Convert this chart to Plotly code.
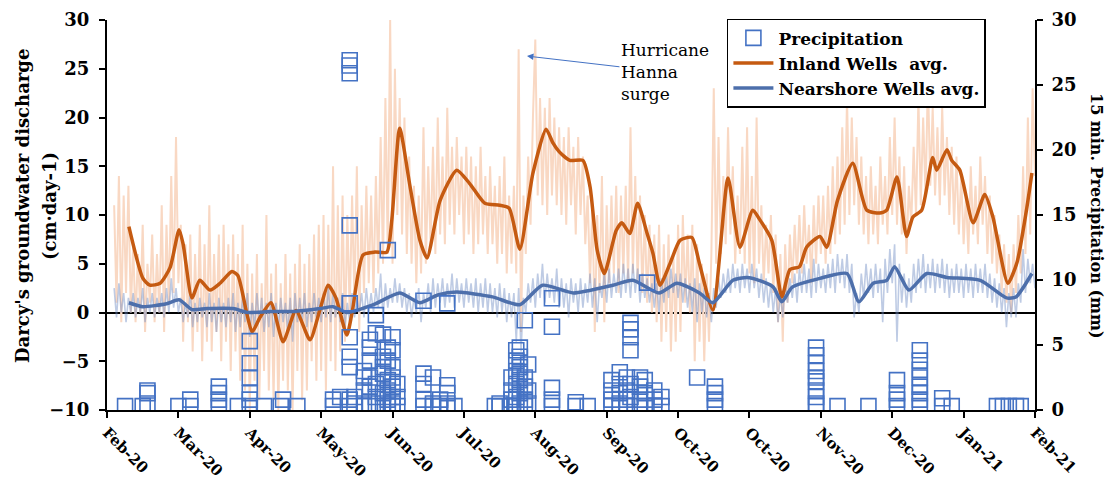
import pandas as pd
import plotly.graph_objects as go

START = pd.Timestamp("2020-02-04")

# ---- x-axis tick labels (every 30 days from START) ----
tick_labels = ["Feb-20", "Mar-20", "Apr-20", "May-20", "Jun-20", "Jul-20", "Aug-20",
               "Sep-20", "Oct-20", "Oct-20", "Nov-20", "Dec-20", "Jan-21", "Feb-21"]
tick_step_days = 30

# ---- raw (15-min, shown as daily extremes) series, one value per day from day 3 ----
raw_start_day = 3
raw_inland = [
    11, 1, 14, -1, 12, 2, 13, 0,
    7, -1, 6, 0, 9, -2, 5, 1, 8, -1,
    6, 0, 11, -2, 9, 1, 14, 2, 18, 3,
    9, -3, 7, -1, 8, -4, 6, -2, 9, -5,
    7, -3, 11, -4, 6, -2, 8, -5, 9, -3,
    7, -6, 8, -4, 6, -7, 9, -8, 5, -10,
    4, -7, 6, -9, 3, -6, 10, -8, 4, -9,
    5, -10, 3, -7, 6, -8, 4, -10, 5, -6,
    7, -9, 5, -8, 6, -5, 8, -7, 9, -6,
    10, -8, 9, -5, 15, -6, 11, -4, 12, -3,
    10, 0, 12, 1, 15, -2, 11, 2, 13, 3,
    12, 2, 14, 4, 18, 5, 22, 6, 30, 5,
    25, 10, 22, 8, 20, 6, 16, 5, 13, 3,
    12, 4, 19, 5, 15, 7, 17, 6, 20, 8,
    16, 7, 21, 9, 17, 8, 18, 10, 16, 7,
    17, 8, 16, 6, 15, 7, 17, 8, 14, 6,
    15, 7, 13, 5, 14, 6, 16, 4, 12, 5,
    13, 4, 27, -2, 12, 6, 16, 9, 20, 28,
    12, 22, 11, 21, 10, 22, 12, 20, 11, 19,
    10, 18, 9, 19, 11, 17, 8, 18, 10, 16,
    7, 12, 3, 11, -2, 10, 2, 14, -1, 11,
    3, 12, 4, 13, 2, 12, 4, 13, 3, 19,
    4, 14, 3, 12, 2, 10, 1, 9, 0, 8,
    -1, 9, -3, 7, -2, 8, -4, 6, -3, 9,
    -2, 10, 1, 8, 0, 9, -5, 7, -3, 5,
    -5, 4, -3, 6, 23, 5, 18, 6, 14, 7,
    19, 8, 15, 5, 12, 6, 17, 5, 19, 4,
    14, 3, 20, 5, 11, 3, 9, 4, 10, 2,
    8, -1, 6, -3, 7, 1, 8, 3, 9, 4,
    10, 4, 11, 5, 9, 3, 11, 5, 12, 6,
    12, 5, 13, 6, 15, 7, 16, 8, 19, 9,
    22, 10, 20, 11, 18, 9, 16, 8, 14, 7,
    15, 8, 13, 7, 16, 9, 14, 8, 18, 10,
    20, 9, 16, 8, 15, 6, 13, 9, 17, 10,
    22, 11, 20, 12, 24, 13, 21, 12, 19, 11,
    21, 12, 18, 10, 17, 9, 16, 8, 14, 7,
    12, 6, 15, 8, 13, 7, 16, 9, 14, 6,
    12, 5, 10, 4, 8, 2, 7, 1, 6, 0,
    7, 2, 10, 4, 15, 6, 20, 8, 23, 14,
]
raw_nearshore = [
    2.5, -0.5, 3, 0, 2, -1, 1.5, 0,
    2, -0.5, 1.5, 0, 2.5, -1, 1.5, 0, 2, -0.5,
    1.5, 0, 2, -0.5, 2.5, 0, 3.5, 0.5, 2.5, 0,
    1.5, -1, 1, -0.5, 2, -1.5, 1, -1, 1.5, -0.5,
    1, -1.5, 2, -1, 1, -2, 1.5, -1, 1, -1.5,
    1.5, -1, 2, -2, 1, -1.5, 1.5, -1, 2, -2.5,
    1, -1.5, 2, -1, 1.5, -2, 1, -1.5, 2, -2.5,
    1, -1.5, 1.5, -1, 1, -2, 1.5, -3, 2, -1,
    1.5, -1, 2, -1.5, 1, -1, 2, -0.5, 1.5, -1,
    2, -0.5, 2.5, -1, 2, -0.5, 1.5, -1, 2, -1.5,
    1, -1, 2, -0.5, 1.5, 0, 2, -0.5, 2.5, 0,
    2, 0, 2.5, 0.5, 4, -0.5, 3, 0.5, 2.5, 1,
    3.5, 1, 3, 0.5, 2.5, 0, 2, -0.5, 1.5, 0,
    2.5, -1, 2, 0.5, 3, 0, 3.5, 0.5, 3, 1,
    3.5, 0.5, 3, 1, 4, 0.5, 3.5, 1, 3, 0.5,
    3.5, 1, 3, 0.5, 3.5, 0, 3, 0.5, 3.5, 0,
    3, 0, 2.5, -0.5, 3, 0, 2.5, -1, 2, -0.5,
    2, -3, 2.5, -4, 1.5, 0, 3, 1, 3.5, 0.5,
    4, 1.5, 5, 1, 4, 1.5, 3.5, 1, 4.5, 0.5,
    3.5, 0.5, 3, -0.5, 3.5, 1, 3, 0, 3.5, 0.5,
    3, 1, 4, 0.5, 3.5, -1, 3, 1.5, 4, 1,
    4.5, 1.5, 4, 2, 4.5, 1.5, 5, 2, 4.5, 1.5,
    5, 2, 4.5, 1, 4, 1.5, 3.5, 1, 3, 0.5,
    3, 0, 3.5, 1, 4, 1.5, 4.5, 2, 4, 1.5,
    4, 1, 3.5, 0.5, 3, 0, 3.5, -1, 3, 0,
    2.5, -0.5, 2, -1, 2.5, 0.5, 3.5, 1.5, 4, 2,
    4.5, 2, 5, 2.5, 4.5, 2, 5, 2.5, 4.5, 2,
    5, 2.5, 4.5, 1.5, 4, 1, 3.5, 0.5, 3, 0,
    2.5, -1, 2, -0.5, 3, 1, 3.5, 1.5, 4, 1,
    4.5, 2, 5, 2, 4.5, 1.5, 5.5, 2, 5, 2.5,
    4.5, 2, 5, 2.5, 5.5, 2, 6, 3, 5.5, 2.5,
    6, 2, 5, -0.5, 2, 0, 4, 1.5, 5, 2,
    4.5, 1.5, 5, 2, 4.5, -1, 5.5, 2, 6.5, 3,
    7, -3, 5, 1, 4, 0.5, 3.5, 1, 5, 2,
    5.5, 2.5, 6, 2, 5, 2.5, 5.5, 2, 5, 2.5,
    5.5, 2, 5, 1.5, 4.5, 2, 5, 2, 4.5, 1.5,
    5, 2, 4.5, 1.5, 5, 2, 4.5, 2, 5, 1.5,
    4, 1, 3.5, 0.5, 3, 0, 2.5, -1.5, 2, -0.5,
    2.5, -0.5, 3, 1, 6.5, 2, 5.5, 3, 5, 2.5,
]

# ---- smoothed averages (day offset from START, value cm/day) ----
inland_day = [9.2, 15.1, 18, 22.3, 26.5, 30.3, 32, 35.7, 39, 43.3, 47.5, 52.5, 55, 58.4, 61,
              64.3, 68.9, 74, 79.4, 85.3, 89.5, 92.9, 96.2, 100.8, 103, 107.6, 112.6, 117.6,
              119.7, 123, 127.3, 131.5, 134.5, 140, 147, 152.5, 158.8, 165, 169, 173.5, 179,
              184.5, 187.4, 190, 194.5, 200, 203, 206, 209, 214, 216.4, 219.7, 223, 227,
              229.4, 232.4, 236.6, 240.8, 245.8, 249, 254.6, 261, 266, 271.4, 274.4, 279.4,
              283.6, 287, 291, 294, 299.6, 302.5, 307, 313.4, 319.3, 324.8, 327.7, 332, 336,
              338.7, 342.4, 347, 348.7, 353, 355, 358.4, 364, 368.9, 372.3, 378.6, 382.4,
              386.6, 388.7]
inland_avg = [8.8, 3.5, 2.8, 3.0, 4.6, 8.5, 7.0, 1.5, 3.3, 2.3, 3.0, 4.2, 3.8, 0.3, -2.0,
              -0.5, 1.0, -3.0, 0.2, -2.8, 0.3, 2.8, 1.5, -2.3, 0.0, 5.9, 6.2, 6.2,
              9.5, 18.9, 13.0, 7.4, 5.6, 11.5, 14.6, 13.2, 11.2, 11.0, 10.7, 6.5, 14.3,
              18.8, 17.4, 16.5, 15.6, 15.6, 12.9, 6.4, 4.0, 8.4, 9.2, 8.1, 11.2, 8.1,
              6.1, 2.8, 5.0, 7.4, 7.7, 5.0, 0.25, 13.8, 6.7, 10.5, 9.5, 7.4,
              1.6, 4.4, 4.7, 6.7, 7.8, 6.7, 11.5, 15.3, 10.5, 10.2, 10.5, 13.9, 7.8,
              9.8, 10.5, 15.9, 14.6, 16.7, 15.6, 14.6, 9.2, 12.1, 9.8, 3.0, 5.1,
              10.8, 14.3]

nearshore_day = [9.2, 15, 25, 30.3, 35.7, 42, 53, 59, 68.9, 78.6, 89.5, 95, 100.8, 112, 123,
                 131.5, 139, 147, 162, 173.5, 183, 196, 212.6, 221, 232, 239.5, 249, 254.6,
                 263, 269, 274, 280, 283.6, 288, 299.6, 311, 316, 322, 327.7, 331, 337,
                 344.5, 353, 367, 378, 382, 388.7]
nearshore_avg = [1.0, 0.6, 0.9, 1.3, 0.3, 0.4, 0.4, 0.0, 0.1, 0.1, 0.4, 0.6, 0.0, 0.8, 2.0,
                 1.0, 1.8, 2.1, 1.6, 0.8, 2.8, 2.0, 2.8, 3.3, 2.0, 3.0, 2.0, 1.0,
                 3.3, 3.6, 3.3, 2.6, 1.1, 2.6, 3.5, 4.0, 1.1, 3.0, 3.3, 4.7, 2.3,
                 4.0, 3.6, 3.3, 1.5, 1.6, 4.0]

# ---- 15-min precipitation (day offset from START, mm) ----
precip_day = [7.6, 15, 17, 17, 17, 30, 35, 35, 47, 47, 47, 47, 55,
              60, 60, 60, 60, 60, 60, 66, 73, 74, 80, 95, 95, 98,
              102, 102, 102, 102, 102, 102, 102, 102, 102, 102, 104, 104,
              108, 108, 108, 108, 110.5, 110.5, 110.5, 110.5, 110.5, 110.5,
              113, 113, 113, 113, 113, 116, 116, 116, 116, 116, 116,
              118, 118, 118, 118, 118, 118, 118, 120, 120, 120, 120, 120, 120, 120, 120,
              122, 122, 122, 133, 133, 133, 133, 133, 137, 137, 137, 140, 140,
              143, 143, 143, 143, 143, 146, 163, 165, 165,
              170, 170, 170, 170, 172, 172, 172, 172, 172, 172,
              173.5, 173.5, 173.5, 173.5, 173.5, 173.5, 173.5,
              175.6, 175.6, 175.6, 175.6, 175.6, 177, 177, 177,
              187, 187, 187, 187, 187, 197, 197, 202,
              212, 212, 212, 212, 215.5, 215.5, 215.5, 215.5, 215.5,
              218.5, 218.5, 218.5, 218.5, 220, 220, 220, 220, 220, 220,
              224, 224, 224, 224, 226, 226, 226, 227, 230, 230, 230, 233, 233,
              248, 255.5, 255.5, 255.5, 255.5,
              298, 298, 298, 298, 298, 298, 298, 298, 298, 298,
              307, 320, 332, 332, 332, 332,
              341.6, 341.6, 341.6, 341.6, 341.6, 341.6, 341.6, 341.6,
              351, 351, 355, 374, 376.5, 379, 382, 384]
precip_mm = [0.3, 0.3, 0.5, 1.3, 1.5, 0.3, 0.3, 0.8, 0.3, 0.8, 1.3, 1.8, 0.3,
             0.3, 0.8, 1.3, 2.5, 3.6, 5.3, 0.3, 0.3, 0.8, 0.3, 0.3, 0.8, 1.0,
             0.3, 0.8, 3.3, 4.1, 5.6, 8.2, 14.2, 25.9, 26.5, 26.9, 0.5, 1.0,
             0.3, 1.5, 2.5, 3.0, 0.5, 1.8, 2.5, 3.8, 4.8, 5.4,
             0.3, 1.0, 2.0, 5.9, 7.3, 0.5, 1.3, 2.8, 3.3, 4.1, 5.8,
             0.3, 0.8, 1.5, 2.3, 3.8, 4.8, 12.3, 0.3, 0.5, 1.0, 1.8, 2.5, 3.3, 4.6, 5.6,
             0.3, 1.0, 2.0, 0.3, 0.8, 2.0, 2.8, 8.4, 0.3, 0.5, 2.5, 0.3, 0.8,
             0.3, 0.5, 1.3, 1.9, 8.2, 0.3, 0.3, 0.3, 0.5,
             0.3, 0.8, 1.5, 2.5, 0.3, 1.0, 2.0, 3.0, 3.8, 4.6,
             0.5, 1.3, 2.3, 2.8, 3.3, 4.1, 4.8,
             0.3, 0.8, 1.8, 2.5, 6.9, 0.5, 1.5, 3.5,
             0.3, 0.8, 1.7, 6.4, 8.6, 0.3, 0.6, 0.3,
             0.3, 0.8, 1.5, 2.3, 0.3, 0.5, 1.3, 2.0, 2.9,
             0.3, 0.8, 1.5, 2.5, 1.0, 2.0, 4.6, 5.6, 6.2, 6.7,
             0.3, 0.8, 1.8, 2.5, 0.3, 1.3, 2.3, 9.8, 0.3, 0.8, 1.5, 0.3, 1.0,
             2.5, 0.3, 0.8, 1.3, 1.8,
             0.3, 0.5, 1.0, 1.5, 2.2, 2.5, 3.0, 3.6, 4.2, 4.8,
             0.3, 0.3, 0.3, 0.8, 1.3, 2.3,
             0.3, 0.8, 1.3, 1.8, 2.5, 3.1, 3.8, 4.6,
             0.3, 0.9, 0.3, 0.3, 0.3, 0.3, 0.3, 0.3]


def to_dates(days):
    return START + pd.to_timedelta(days, unit="D")


raw_dates = to_dates(list(range(raw_start_day, raw_start_day + len(raw_inland))))
raw_dates_n = to_dates(list(range(raw_start_day, raw_start_day + len(raw_nearshore))))
tick_vals = to_dates([i * tick_step_days for i in range(len(tick_labels))])

SERIF = "DejaVu Serif, Liberation Serif, serif"

fig = go.Figure()
fig.add_trace(go.Scatter(x=raw_dates, y=raw_inland, mode="lines",
                         line=dict(color="#f9d8c3", width=2),
                         showlegend=False, hoverinfo="skip"))
fig.add_trace(go.Scatter(x=raw_dates_n, y=raw_nearshore, mode="lines",
                         line=dict(color="rgba(110,140,195,0.45)", width=1.6),
                         showlegend=False, hoverinfo="skip"))
fig.add_trace(go.Scatter(x=to_dates(precip_day), y=precip_mm, mode="markers", yaxis="y2",
                         name="Precipitation",
                         marker=dict(symbol="square-open", size=15, color="#4472c4",
                                     line=dict(width=1.6, color="#4472c4"))))
fig.add_trace(go.Scatter(x=to_dates(inland_day), y=inland_avg, mode="lines",
                         name="Inland Wells  avg.",
                         line=dict(color="#c55a11", width=3.5, shape="spline", smoothing=0.6)))
fig.add_trace(go.Scatter(x=to_dates(nearshore_day), y=nearshore_avg, mode="lines",
                         name="Nearshore Wells avg.",
                         line=dict(color="#4d6fab", width=3.5, shape="spline", smoothing=0.6)))

fig.update_layout(
    width=1113, height=488,
    margin=dict(l=107, r=78, t=20, b=78, autoexpand=False),
    plot_bgcolor="white", paper_bgcolor="white",
    font=dict(family=SERIF, color="black"),
    xaxis=dict(type="date", range=[to_dates(0), to_dates(390)], automargin=False,
               tickvals=tick_vals, ticktext=tick_labels, tickangle=45,
               tickfont=dict(family=SERIF, size=15, color="black", weight="bold"),
               showgrid=False, showline=True, linecolor="black", linewidth=2,
               ticks="outside", ticklen=6, tickcolor="black", tickwidth=1.5,
               zeroline=False),
    yaxis=dict(range=[-10, 30], dtick=5, showgrid=False, automargin=False,
               showline=True, linecolor="black", linewidth=2,
               ticks="outside", ticklen=6, tickcolor="black", tickwidth=2,
               ticklabelstandoff=6,
               zeroline=True, zerolinecolor="black", zerolinewidth=2,
               tickfont=dict(family=SERIF, size=18, color="black", weight="bold")),
    yaxis2=dict(range=[0, 30], dtick=5, overlaying="y", side="right", showgrid=False,
                automargin=False,
                showline=True, linecolor="black", linewidth=2,
                ticks="outside", ticklen=6, tickcolor="black", tickwidth=2,
                ticklabelstandoff=5,
                zeroline=False,
                tickfont=dict(family=SERIF, size=18, color="black", weight="bold")),
    legend=dict(x=0.668, y=1.003, xanchor="left", yanchor="top",
                bgcolor="white", bordercolor="black", borderwidth=1.5,
                font=dict(family=SERIF, size=17, color="black", weight="bold"),
                tracegroupgap=0, itemwidth=40),
    showlegend=True,
)

# left axis title, two lines (placed separately to match the wide line spacing)
fig.add_annotation(x=0, y=0.523, xref="paper", yref="paper", xanchor="center", yanchor="middle",
                   xshift=-85, text="Darcy's groundwater discharge", textangle=-90,
                   showarrow=False,
                   font=dict(family=SERIF, size=18, color="black", weight="bold"))
fig.add_annotation(x=0, y=0.523, xref="paper", yref="paper", xanchor="center", yanchor="middle",
                   xshift=-58, text="(cm·day-1)", textangle=-90, showarrow=False,
                   font=dict(family=SERIF, size=18, color="black", weight="bold"))

fig.add_annotation(x=to_dates(176.5), y=26.3, xref="x", yref="y",
                   text="Hurricane<br>Hanna<br>surge", align="left",
                   showarrow=True, ax=138, ay=16, axref="pixel", ayref="pixel",
                   arrowhead=2, arrowsize=1.3, arrowwidth=1, arrowcolor="#4472c4",
                   font=dict(family=SERIF, size=17, color="black"))

fig.add_annotation(x=1.0, y=0.5, xref="paper", yref="paper", xanchor="center", yanchor="middle",
                   xshift=62, text="15 min. Precipitation (mm)", textangle=90, showarrow=False,
                   font=dict(family=SERIF, size=16, color="black", weight="bold"))

fig.write_html("out.html", config={"displayModeBar": False},
               post_script="document.body.style.margin='0';")
